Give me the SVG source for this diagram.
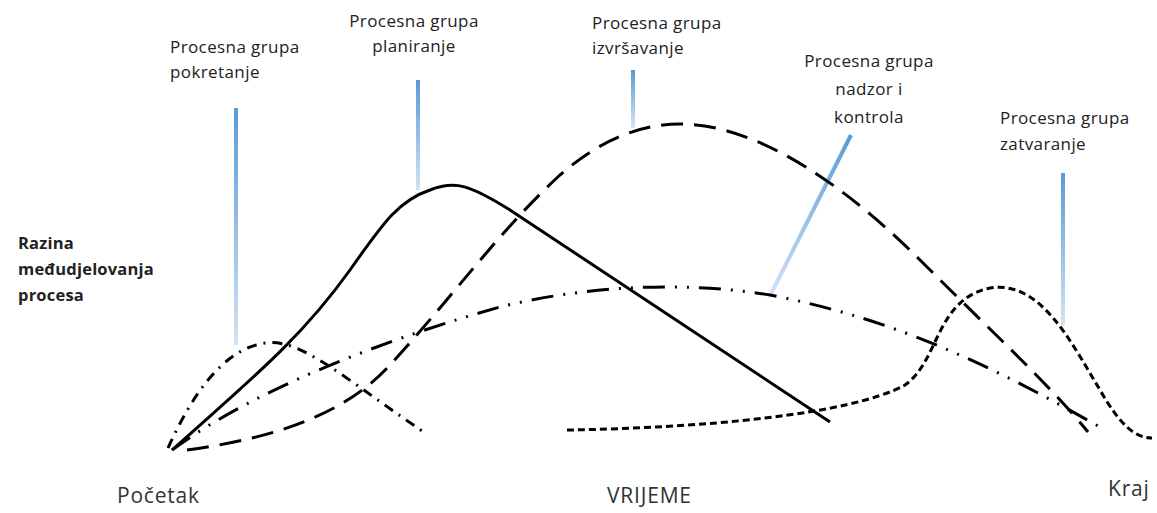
<svg xmlns="http://www.w3.org/2000/svg" width="1157" height="513" viewBox="0 0 1157 513">
<style>
text{font-family:"Open Sans","Noto Sans",sans-serif;font-size:17px;letter-spacing:0.4px;fill:#222}
.b{font-weight:bold;font-size:16.5px;letter-spacing:0.2px}
.ax{font-size:21px;letter-spacing:0.8px;fill:#333}
.c{text-anchor:middle}
.crv{fill:none;stroke:#000;stroke-width:3}
</style>
<defs>
<linearGradient id="bl" x1="0" y1="0" x2="0" y2="1">
<stop offset="0" stop-color="#5b9bd5"/>
<stop offset="1" stop-color="#d2e3f4"/>
</linearGradient>
</defs>
<rect width="1157" height="513" fill="#fff"/>
<g id="pointers">
<rect x="234" y="108" width="4" height="237" fill="url(#bl)"/>
<rect x="416" y="80" width="4" height="110" fill="url(#bl)"/>
<rect x="631" y="70" width="4" height="58" fill="url(#bl)"/>
<rect x="1061" y="173" width="4" height="152" fill="url(#bl)"/>
<polygon points="852.8,135.9 849.2,134.1 768.2,295.1 771.8,296.9" fill="url(#bl)"/>
</g>
<g id="connectors">
<path id="c-pokretanje" class="crv" stroke-dasharray="10 7 2 7" d="M168,448 C190,400 220,350 265,343 C300,338 340,375 425,433"/>
<path id="c-planiranje" class="crv" stroke-width="2.5" d="M172,450 C250,380 300,340 350,270 C385,220 400,200 430,190 C455,180 470,185 510,210 L830,422"/>
<path id="c-izvrsavanje" class="crv" stroke-dasharray="22 11" d="M187,450 C260,440 340,420 390,365 C450,300 500,230 560,175 C600,140 640,124 680,124 C760,124 850,190 920,260 C990,330 1050,385 1088,432"/>
<path id="c-nadzor" class="crv" stroke="#666" stroke-dasharray="22 10 2 10 2 10" d="M172,450 C260,385 400,335 500,307 C580,287 680,280 770,295 C900,320 1000,370 1105,430"/>
<path id="c-zatvaranje" class="crv" stroke-dasharray="7 4" d="M567,430 C700,428 850,415 905,385 C940,360 935,300 990,288 C1040,280 1070,340 1100,390 C1120,425 1135,438 1152,438"/>
</g>
<g id="n-pokretanje"><text x="170" y="53">Procesna grupa</text><text x="170" y="78">pokretanje</text></g>
<g id="n-planiranje"><text class="c" x="414" y="27">Procesna grupa</text><text class="c" x="414" y="52">planiranje</text></g>
<g id="n-izvrsavanje"><text x="592" y="29">Procesna grupa</text><text x="592" y="54">izvršavanje</text></g>
<g id="n-nadzor"><text class="c" x="869" y="67">Procesna grupa</text><text class="c" x="869" y="95">nadzor i</text><text class="c" x="869" y="123">kontrola</text></g>
<g id="n-zatvaranje"><text x="1000" y="124">Procesna grupa</text><text x="1000" y="150">zatvaranje</text></g>
<g id="n-razina"><text class="b" x="18" y="249">Razina</text><text class="b" x="18" y="275">međudjelovanja</text><text class="b" x="18" y="301">procesa</text></g>
<g id="n-pocetak"><text class="ax" x="117" y="503">Početak</text></g>
<g id="n-vrijeme"><text class="ax" x="607" y="503">VRIJEME</text></g>
<g id="n-kraj"><text class="ax" x="1108" y="496">Kraj</text></g>
</svg>
